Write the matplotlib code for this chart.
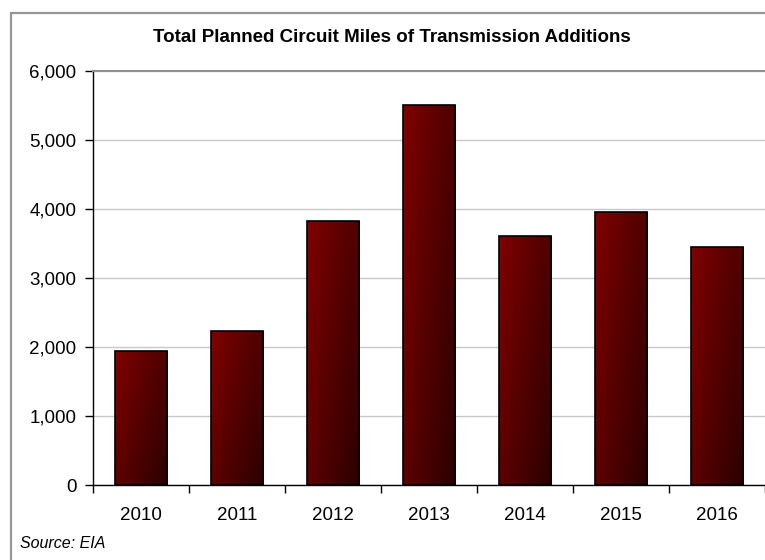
import numpy as np
import matplotlib.pyplot as plt
from matplotlib.patches import Rectangle
from matplotlib.ticker import FuncFormatter, FixedLocator

plt.rcParams['font.family'] = ['Liberation Sans', 'DejaVu Sans']

years = ['2010', '2011', '2012', '2013', '2014', '2015', '2016']
miles = [1940, 2230, 3820, 5500, 3600, 3950, 3450]

fig = plt.figure(figsize=(7.65, 5.6), dpi=100)

# outer chart frame
fig.patches.append(Rectangle((11 / 765, -0.05), 1.0, (560 - 13) / 560 + 0.05,
                             transform=fig.transFigure, fill=False,
                             edgecolor='#969696', lw=1.6))

ax = fig.add_axes([93 / 765, 75 / 560, 672 / 765, (485 - 70.7) / 560])

# gradient fill for each bar (dark red, darker toward bottom right)
gx, gy = np.meshgrid(np.linspace(0, 1, 60), np.linspace(0, 1, 120))
r = 128 - 50 * gx - 35 * gy
grad = np.dstack([r / 255, np.zeros_like(r), np.zeros_like(r)])

w = 0.55
for i, v in enumerate(miles):
    rect = Rectangle((i - w / 2, 0), w, v, facecolor='none',
                     edgecolor='black', lw=1.2, zorder=4)
    ax.add_patch(rect)
    im = ax.imshow(grad, extent=(i - w / 2, i + w / 2, 0, v), origin='upper',
                   aspect='auto', zorder=3, interpolation='bilinear')
    im.set_clip_path(rect)

ax.set_xlim(-0.5, len(years) - 0.5)
ax.set_ylim(0, 6000)

ax.set_yticks(np.arange(0, 6001, 1000))
ax.yaxis.set_major_formatter(FuncFormatter(lambda v, p: f'{int(v):,}'))
ax.yaxis.grid(True, color='#c8c8c8', lw=1)
ax.set_axisbelow(True)

ax.set_xticks(range(len(years)))
ax.set_xticklabels(years)
ax.xaxis.set_minor_locator(FixedLocator(np.arange(-0.5, len(years), 1)))
ax.tick_params(axis='x', which='major', length=0, pad=16, labelsize=13.5)
ax.tick_params(axis='x', which='minor', length=6, width=1, direction='out')
ax.tick_params(axis='y', length=6, width=1, direction='out', pad=6, labelsize=13.5)

ax.spines['right'].set_visible(False)
ax.spines['top'].set_color('#909090')
ax.spines['top'].set_linewidth(1.5)
ax.spines['left'].set_linewidth(1)
ax.spines['bottom'].set_linewidth(1)

fig.text(392 / 765, (560 - 37) / 560, 'Total Planned Circuit Miles of Transmission Additions',
         ha='center', va='center', fontsize=13.5, fontweight='bold')
fig.text(20 / 765, (560 - 543) / 560, 'Source: EIA', ha='left', va='center',
         fontsize=11.5, style='italic')

fig.savefig('out.png', dpi=100)
